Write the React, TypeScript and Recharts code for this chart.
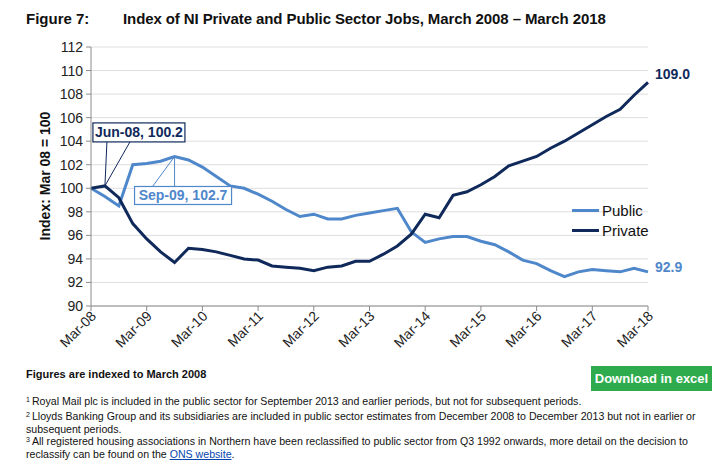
import React from "react";
import {
  LineChart,
  Line,
  XAxis,
  YAxis,
  CartesianGrid,
  Legend,
  ReferenceDot,
} from "recharts";

const FONT = '"Liberation Sans", Arial, sans-serif';
const PUBLIC_COLOR = "#4f87cb";
const PRIVATE_COLOR = "#10295b";

// quarters, March 2008 to March 2018
const quarters = [
  "Mar-08", "Jun-08", "Sep-08", "Dec-08",
  "Mar-09", "Jun-09", "Sep-09", "Dec-09",
  "Mar-10", "Jun-10", "Sep-10", "Dec-10",
  "Mar-11", "Jun-11", "Sep-11", "Dec-11",
  "Mar-12", "Jun-12", "Sep-12", "Dec-12",
  "Mar-13", "Jun-13", "Sep-13", "Dec-13",
  "Mar-14", "Jun-14", "Sep-14", "Dec-14",
  "Mar-15", "Jun-15", "Sep-15", "Dec-15",
  "Mar-16", "Jun-16", "Sep-16", "Dec-16",
  "Mar-17", "Jun-17", "Sep-17", "Dec-17",
  "Mar-18",
];

const publicIdx = [
  100.0, 99.3, 98.5, 102.0,
  102.1, 102.3, 102.7, 102.4,
  101.8, 101.0, 100.2, 100.0,
  99.5, 98.9, 98.2, 97.6,
  97.8, 97.4, 97.4, 97.7,
  97.9, 98.1, 98.3, 96.3,
  95.4, 95.7, 95.9, 95.9,
  95.5, 95.2, 94.6, 93.9,
  93.6, 93.0, 92.5, 92.9,
  93.1, 93.0, 92.9, 93.2,
  92.9,
];

const privateIdx = [
  100.0, 100.2, 99.2, 97.0,
  95.7, 94.6, 93.7, 94.9,
  94.8, 94.6, 94.3, 94.0,
  93.9, 93.4, 93.3, 93.2,
  93.0, 93.3, 93.4, 93.8,
  93.8, 94.4, 95.1, 96.1,
  97.8, 97.5, 99.4, 99.7,
  100.3, 101.0, 101.9, 102.3,
  102.7, 103.4, 104.0, 104.7,
  105.4, 106.1, 106.7, 107.9,
  109.0,
];

const yTicks = [90, 92, 94, 96, 98, 100, 102, 104, 106, 108, 110, 112];
const seriesOrder = ["Public", "Private"];

const footnotes = [
  "Royal Mail plc is included in the public sector for September 2013 and earlier periods, but not for subsequent periods.",
  "Lloyds Banking Group and its subsidiaries are included in public sector estimates from December 2008 to December 2013 but not in earlier or subsequent periods.",
];

const data = quarters.map((q, i) => ({
  q,
  Public: publicIdx[i],
  Private: privateIdx[i],
}));

const XTick = (props: any) => {
  const { x, y, payload } = props;
  const tx = x + 6;
  const ty = y + 4;
  return (
    <text
      x={tx}
      y={ty}
      transform={`rotate(-45, ${tx}, ${ty})`}
      textAnchor="end"
      fontSize={14}
      fontFamily={FONT}
      fill="#222"
    >
      {payload.value}
    </text>
  );
};

// callout above the private Jun-08 point
const PrivateCallout = (props: any) => {
  const { cx, cy } = props;
  const left = cx - 12;
  const top = cy - 63;
  const w = 92;
  const h = 19;
  return (
    <g>
      <line x1={cx + 2} y1={top + h} x2={cx} y2={cy} stroke={PRIVATE_COLOR} strokeWidth={1} />
      <line x1={cx + 25} y1={top + h} x2={cx} y2={cy} stroke={PRIVATE_COLOR} strokeWidth={1} />
      <rect x={left} y={top} width={w} height={h} fill="#fff" stroke={PRIVATE_COLOR} strokeWidth={1.2} />
      <text
        x={left + w / 2}
        y={top + h / 2 + 5}
        textAnchor="middle"
        fontSize={14}
        fontWeight="bold"
        fontFamily={FONT}
        fill={PRIVATE_COLOR}
      >
        Jun-08, 100.2
      </text>
    </g>
  );
};

// callout below the public Sep-09 point
const PublicCallout = (props: any) => {
  const { cx, cy } = props;
  const left = cx - 40;
  const top = cy + 30;
  const w = 97;
  const h = 18;
  return (
    <g>
      <line x1={cx} y1={top} x2={cx} y2={cy} stroke={PUBLIC_COLOR} strokeWidth={1} />
      <line x1={cx - 22} y1={top} x2={cx} y2={cy} stroke={PUBLIC_COLOR} strokeWidth={1} />
      <rect x={left} y={top} width={w} height={h} fill="#fff" stroke={PUBLIC_COLOR} strokeWidth={1.2} />
      <text
        x={left + w / 2}
        y={top + h / 2 + 5}
        textAnchor="middle"
        fontSize={14}
        fontWeight="bold"
        fontFamily={FONT}
        fill={PUBLIC_COLOR}
      >
        Sep-09, 102.7
      </text>
    </g>
  );
};

const endLabel = (color: string, text: string, dy: number) => (props: any) => (
  <text
    x={props.cx + 7}
    y={props.cy + dy}
    fontSize={14}
    fontWeight="bold"
    fontFamily={FONT}
    fill={color}
  >
    {text}
  </text>
);

const LegendBox = (props: any) => {
  const payload = [...(props.payload || [])].sort(
    (a: any, b: any) => seriesOrder.indexOf(a.value) - seriesOrder.indexOf(b.value)
  );
  return (
    <div style={{ fontFamily: FONT, fontSize: 15, color: "#111" }}>
      {payload.map((entry: any) => (
        <div key={entry.value} style={{ display: "flex", alignItems: "center", height: 20 }}>
          <span
            style={{
              display: "inline-block",
              width: 27,
              height: 3,
              background: entry.color,
              marginRight: 3,
            }}
          />
          {entry.value}
        </div>
      ))}
    </div>
  );
};

const Sup = ({ n }: { n: string }) => (
  <span style={{ fontSize: 7, lineHeight: 0, position: "relative", top: -3, marginRight: 2 }}>{n}</span>
);

const noteStyle = (top: number): React.CSSProperties => ({
  position: "absolute",
  left: 26,
  top,
  width: 690,
  fontSize: 10.6,
  lineHeight: "12.5px",
  color: "#111",
});

export default function App() {
  const last = quarters.length - 1;
  return (
    <div
      style={{
        position: "absolute",
        left: 0,
        top: 0,
        width: 717,
        height: 465,
        background: "#fff",
        fontFamily: FONT,
        overflow: "hidden",
      }}
    >
      <div style={{ position: "absolute", left: 26, top: 10, fontSize: 15, fontWeight: "bold", color: "#111" }}>
        Figure 7:
      </div>
      <div style={{ position: "absolute", left: 123, top: 10, fontSize: 15, fontWeight: "bold", color: "#111", letterSpacing: -0.1 }}>
        Index of NI Private and Public Sector Jobs, March 2008 – March 2018
      </div>

      <div
        style={{
          position: "absolute",
          left: 45,
          top: 176,
          transform: "translate(-50%, -50%) rotate(-90deg)",
          fontSize: 14,
          fontWeight: "bold",
          whiteSpace: "nowrap",
          color: "#111",
        }}
      >
        Index: Mar 08 = 100
      </div>

      <div style={{ position: "absolute", left: 0, top: 0 }}>
        <LineChart width={717} height={370} data={data} margin={{ top: 47, right: 69, bottom: 14, left: 0 }}>
          <CartesianGrid vertical={false} stroke="#dedede" />
          <XAxis
            dataKey="q"
            interval={3}
            tick={<XTick />}
            height={50}
            stroke="#8c8c8c"
            tickSize={5}
          />
          <YAxis
            domain={[90, 112]}
            ticks={yTicks}
            interval={0}
            width={91}
            stroke="#8c8c8c"
            tickSize={5}
            tickMargin={3}
            tick={{ fontSize: 14, fill: "#222", fontFamily: FONT }}
          />
          <Legend
            layout="vertical"
            align="center"
            verticalAlign="middle"
            content={<LegendBox />}
            wrapperStyle={{ left: 572, top: 200, width: 120, bottom: "auto", right: "auto" }}
          />
          <Line
            dataKey="Public"
            stroke={PUBLIC_COLOR}
            strokeWidth={3}
            dot={false}
            activeDot={false}
            isAnimationActive={false}
          />
          <Line
            dataKey="Private"
            stroke={PRIVATE_COLOR}
            strokeWidth={3}
            dot={false}
            activeDot={false}
            isAnimationActive={false}
          />
          <ReferenceDot x={quarters[1]} y={privateIdx[1]} shape={<PrivateCallout />} />
          <ReferenceDot x={quarters[6]} y={publicIdx[6]} shape={<PublicCallout />} />
          <ReferenceDot
            x={quarters[last]}
            y={privateIdx[last]}
            shape={endLabel(PRIVATE_COLOR, privateIdx[last].toFixed(1), -3)}
          />
          <ReferenceDot
            x={quarters[last]}
            y={publicIdx[last]}
            shape={endLabel(PUBLIC_COLOR, publicIdx[last].toFixed(1), 0)}
          />
        </LineChart>
      </div>

      <div style={{ position: "absolute", left: 26, top: 368, fontSize: 11, fontWeight: "bold", color: "#111" }}>
        Figures are indexed to March 2008
      </div>
      <div
        style={{
          position: "absolute",
          left: 591,
          top: 366,
          width: 121,
          height: 25,
          background: "#2eab4c",
          color: "#fff",
          fontSize: 13,
          fontWeight: "bold",
          display: "flex",
          alignItems: "center",
          justifyContent: "center",
        }}
      >
        Download in excel
      </div>
      <div style={noteStyle(395)}>
        <Sup n="1" />
        {footnotes[0]}
      </div>
      <div style={noteStyle(410)}>
        <Sup n="2" />
        {footnotes[1]}
      </div>
      <div style={noteStyle(435)}>
        <Sup n="3" />
        All registered housing associations in Northern have been reclassified to public sector from Q3 1992 onwards, more
        detail on the decision to reclassify can be found on the{" "}
        <span style={{ color: "#0645ad", textDecoration: "underline" }}>ONS website</span>.
      </div>
    </div>
  );
}
